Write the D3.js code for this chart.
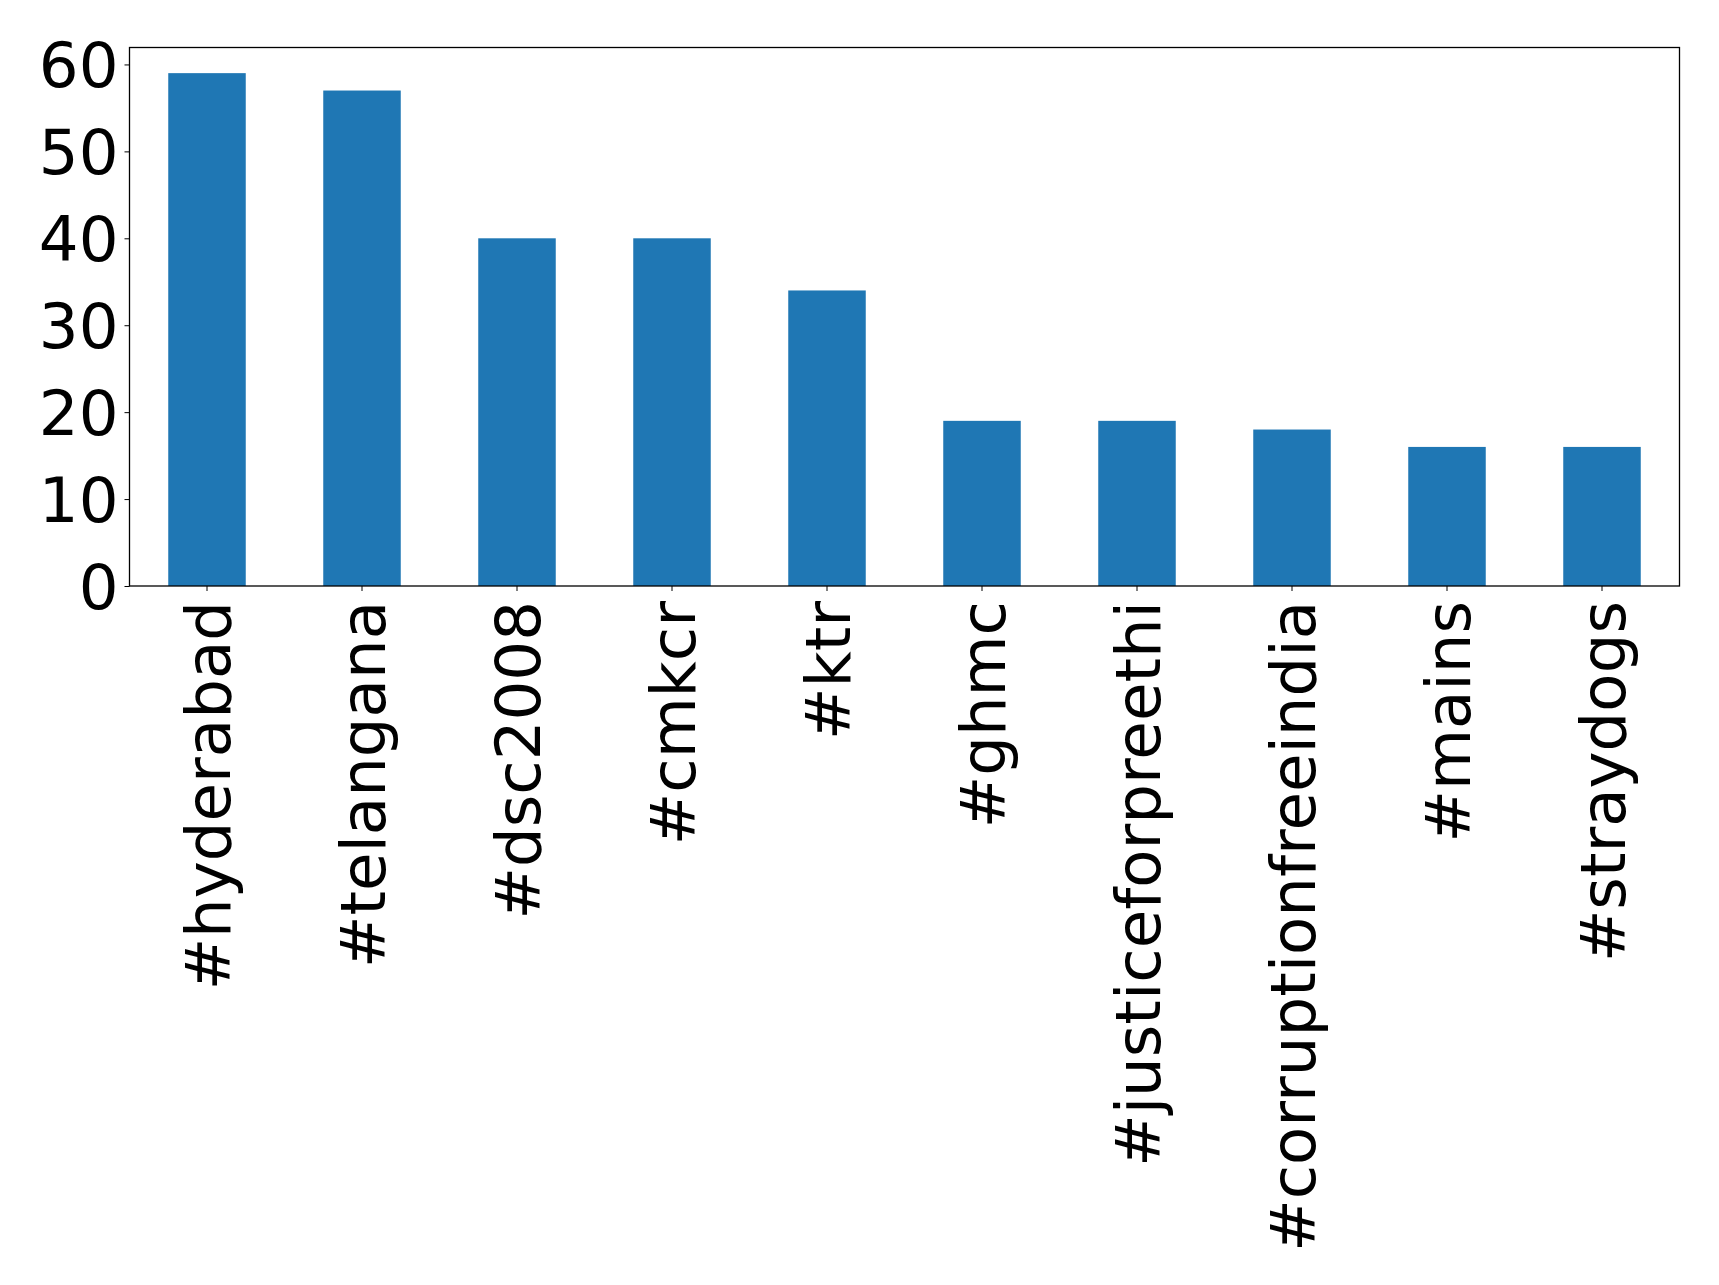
<!DOCTYPE html>
<html>
<head>
<meta charset="utf-8">
<script src="https://cdn.jsdelivr.net/npm/d3@7"></script>
<style>
  html, body { margin: 0; padding: 0; background: #fff; overflow: hidden; }
  svg { display: block; }
  svg text { font-family: "DejaVu Sans", sans-serif; }
</style>
</head>
<body>
<div id="chart"></div>
<script>
// hashtag counts
const tags = ["#hyderabad", "#telangana", "#dsc2008", "#cmkcr", "#ktr", "#ghmc",
  "#justiceforpreethi", "#corruptionfreeindia", "#mains", "#straydogs"];
const counts = [59, 57, 40, 40, 34, 19, 19, 18, 16, 16];
const yTicks = [0, 10, 20, 30, 40, 50, 60];

const width = 1719, height = 1285;
const margin = { top: 47.5, right: 39.5, bottom: 699, left: 129.5 };
const innerWidth = width - margin.left - margin.right;
const innerHeight = height - margin.top - margin.bottom;
const fontSize = 62.6;

const svg = d3.select("#chart")
  .append("svg")
  .attr("width", width)
  .attr("height", height);

const g = svg.append("g")
  .attr("transform", `translate(${margin.left},${margin.top})`);

const xScale = d3.scaleBand()
  .domain(tags)
  .range([0, innerWidth])
  .paddingInner(0.5)
  .paddingOuter(0.25);

const yScale = d3.scaleLinear()
  .domain([0, d3.max(counts) * 1.05])
  .range([innerHeight, 0]);

// bars
g.selectAll("rect.bar")
  .data(counts)
  .join("rect")
  .attr("class", "bar")
  .attr("x", (d, i) => xScale(tags[i]))
  .attr("y", d => yScale(d))
  .attr("width", xScale.bandwidth())
  .attr("height", d => innerHeight - yScale(d))
  .attr("fill", "#1f77b4");

// axes
const yAxis = d3.axisLeft(yScale).tickValues(yTicks).tickSize(5).tickPadding(6);
const yG = g.append("g").call(yAxis);
yG.select(".domain").remove();
yG.selectAll("text")
  .attr("font-size", fontSize)
  .attr("fill", "#000")
  .attr("dy", "0.36em");
yG.selectAll("line").attr("stroke", "#000");

const xAxis = d3.axisBottom(xScale).tickSize(5).tickPadding(0);
const xG = g.append("g")
  .attr("transform", `translate(0,${innerHeight})`)
  .call(xAxis);
xG.select(".domain").remove();
xG.selectAll("line").attr("stroke", "#000");
xG.selectAll("text")
  .attr("font-size", fontSize)
  .attr("fill", "#000")
  .attr("text-anchor", "end")
  .attr("transform", "translate(0,15) rotate(-90)")
  .attr("x", 0)
  .attr("y", 0)
  .attr("dy", "0.36em");

// frame
g.append("rect")
  .attr("width", innerWidth)
  .attr("height", innerHeight)
  .attr("fill", "none")
  .attr("stroke", "#000")
  .attr("stroke-width", 1.3);
</script>
</body>
</html>
